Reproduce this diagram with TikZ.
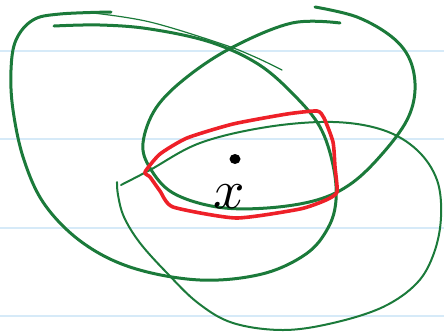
\documentclass[tikz,border=0pt]{standalone}
\usepackage{graphicx}
\usepackage{xcolor}
\usepackage{tikz}
\definecolor{inkgreen}{HTML}{1B7A3A}
\definecolor{inkred}{HTML}{EE2028}
\definecolor{rule}{HTML}{D6EAF8}

\begin{document}
\begin{tikzpicture}[x=1pt, y=-1pt,
          ruling/.style={rule, line width=1.8pt},
          bigloop/.style={inkgreen, line width=3pt, line cap=round},
          thinloop/.style={inkgreen, line width=2pt, line cap=round},
          hairline/.style={inkgreen, line width=1.2pt, line cap=round},
          region/.style={inkred, line width=3.6pt, line cap=round, line join=round}]
        \useasboundingbox (0,0) rectangle (444,335);
        % notebook lines
        \foreach \y in {51,139,228,316}
          \draw[ruling] (0,\y) -- (444,\y);
        % big left loop
        \draw[bigloop] plot[smooth, tension=0.6] coordinates {(111,12) (60,14) (33,20) (16,40) (11,70) (13,110)
          (24,160) (45,205) (83,243) (133,268) (200,280) (262,274) (306,254) (328,228) (336,200)
          (333,165) (320,127) (294,95) (258,64) (210,42) (150,29) (100,25) (54,26)};
        \draw[hairline] plot[smooth, tension=0.6] coordinates {(93,13) (150,22) (222,44) (255,57) (282,70)};
        % upper loop
        \draw[bigloop] plot[smooth, tension=0.6] coordinates {(340,23) (292,23) (233,47) (187,77) (156,108)
          (143,143) (150,168) (173,193) (217,207) (267,208) (317,200) (352,183) (383,153) (407,120)
          (415,90) (410,60) (392,37) (357,17) (315,7)};
        % lower loop
        \draw[thinloop] plot[smooth, tension=0.6] coordinates {(121,185) (150,170) (200,143) (267,127) (333,122)
          (383,130) (417,150) (437,180) (441,217) (434,253) (417,283) (383,307) (333,323) (283,330)
          (233,323) (198,303) (167,273) (140,243) (124,217) (118,195) (117,182)};
        % region
        \draw[region] plot[smooth cycle, tension=0.35] coordinates {(145,172) (160,154) (187,138) (233,124)
          (287,114) (317,111) (324,118) (333,142) (335,167) (337,192) (326,200) (300,209) (236,218)
          (173,207) (160,191) (150,177)};
        % point and label
        \fill (235,159) ellipse (5.5 and 5);
        \node[inner sep=0pt] (xlabel) at (229,197) {\scalebox{5.5}{$x$}};
\end{tikzpicture}
\end{document}
